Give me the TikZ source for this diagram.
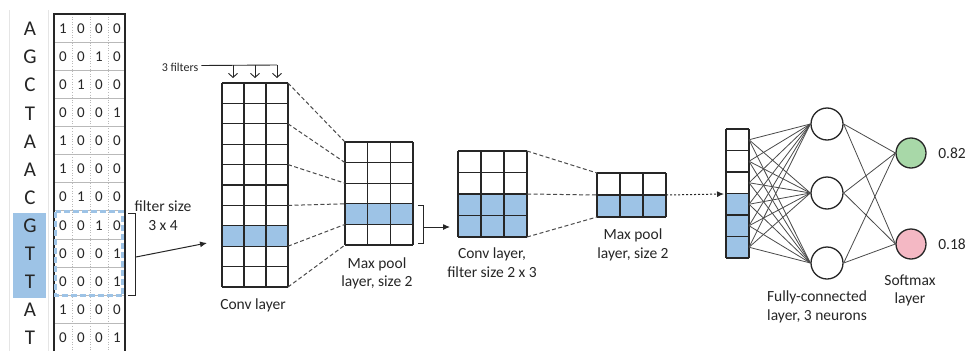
\documentclass[tikz,border=0pt]{standalone}
\usepackage{fontspec}
\setmainfont{Carlito}
\usetikzlibrary{arrows.meta}

\definecolor{cellblue}{HTML}{9DC3E6}
\definecolor{ink}{HTML}{262626}
\definecolor{linegray}{HTML}{4A4A4A}
\definecolor{outgreen}{HTML}{A8D8A8}
\definecolor{outpink}{HTML}{F4B8C4}

\tikzset{
  gridline/.style={line width=1.3pt, draw=ink},
  poolmap/.style={line width=1pt, draw=linegray, dash pattern=on 4pt off 2.5pt},
  wire/.style={line width=0.8pt, draw=linegray},
  neuron/.style={circle, draw=ink, line width=1.3pt, fill=white, minimum size=32pt, inner sep=0pt},
  outneuron/.style={neuron, minimum size=30pt},
  label/.style={font=\fontsize{15.5}{18.5}\selectfont, text=ink, align=center, inner sep=0pt},
  base/.style={font=\fontsize{21}{21}\selectfont, text=ink, inner sep=0pt},
  bit/.style={font=\fontsize{15}{15}\selectfont, text=ink, inner sep=0pt},
  bracket/.style={line width=0.9pt, draw=ink},
  flow/.style={line width=1pt, draw=ink, -{Latex[length=7pt, width=6pt]}},
}

% cell grid: x0, y0, columns, rows, cell width, row height, shaded rows, name
\newcommand{\cellgrid}[8]{%
  \foreach \r in {#7} {\fill[cellblue] (#1,{#2+\r*#6}) rectangle ({#1+#3*#5},{#2+(\r+1)*#6});}
  \foreach \c in {0,...,#3} {\draw[gridline] ({#1+\c*#5},#2) -- ({#1+\c*#5},{#2+#4*#6});}
  \foreach \r in {0,...,#4} {%
    \draw[gridline] (#1,{#2+\r*#6}) -- ({#1+#3*#5},{#2+\r*#6});
    \coordinate (#8-w\r) at (#1,{#2+\r*#6});
    \coordinate (#8-e\r) at ({#1+#3*#5},{#2+\r*#6});}
}

\begin{document}
\begin{tikzpicture}[x=1pt, y=-1pt]
\useasboundingbox (0,0) rectangle (968,351);
\fill[white] (0,0) rectangle (968,351);

% ---- one-hot encoded sequence ----
\draw[gray!20, line width=0.8pt] (9,10) -- (9,351);
\draw[gray!20, line width=0.8pt] (48,10) -- (48,351);
\fill[cellblue] (13,213) rectangle (46,298);
\foreach \k in {1,...,11} {\draw[gray!55, line width=0.6pt] (54,{14+\k*28.1}) -- (125,{14+\k*28.1});}
\foreach \xx in {72,90,108} {\draw[gray!55, line width=0.6pt, dotted] (\xx,14) -- (\xx,351);}
\foreach \l/\a/\b/\c/\d [count=\i from 0] in
  {A/1/0/0/0, G/0/0/1/0, C/0/1/0/0, T/0/0/0/1, A/1/0/0/0, A/1/0/0/0,
   C/0/1/0/0, G/0/0/1/0, T/0/0/0/1, T/0/0/0/1, A/1/0/0/0, T/0/0/0/1} {
  \node[base] (nt\i) at (30,{15+(\i+0.5)*28.1}) {\l};
  \node[bit] (b\i a) at (63,{14.5+(\i+0.5)*28.1}) {\a};
  \node[bit] (b\i b) at (81,{14.5+(\i+0.5)*28.1}) {\b};
  \node[bit] (b\i c) at (99,{14.5+(\i+0.5)*28.1}) {\c};
  \node[bit] (b\i d) at (117,{14.5+(\i+0.5)*28.1}) {\d};
}
\draw[line width=1.5pt, draw=ink] (54,351) -- (54,14) -- (125,14) -- (125,351);
\draw[cellblue, line width=2.2pt, dash pattern=on 6pt off 3pt] (55.5,211.5) rectangle (122.5,295.5);

% filter window bracket and arrow into the first convolution
\draw[bracket] (128,213) -- (135,213) -- (135,295) -- (128,295);
\coordinate (brkA) at (136,257);
\coordinate (convA-in) at (207,243);
\draw[flow] (brkA) -- (convA-in);
\node[label] (filterlbl) at (163,215.5) {filter size\\3 x 4};

% ---- first convolution layer ----
\cellgrid{222}{83}{3}{10}{22}{20.4}{7}{convA}
\node[label] (convAlbl) at (253,305) {Conv layer};

% three filters feeding the columns
\node[font=\fontsize{12}{12}\selectfont, text=ink, inner sep=0pt] (filters) at (180,67) {3 filters};
\coordinate (fbar) at (277,65);
\draw[line width=0.9pt, ink] (filters.east) ++(3,-1.5) coordinate (fstart) -- (fbar);
\foreach \xx [count=\j] in {233,255,277} {
  \coordinate (fin\j) at (\xx,78);
  \draw[line width=0.9pt, ink, -{Straight Barb[length=4pt, width=9pt]}] (\xx,65) -- (fin\j);
}

% ---- first max pooling ----
\cellgrid{345}{142}{3}{5}{22.67}{20.6}{3}{poolA}
\foreach \a/\b in {0/0,2/1,4/2,6/3,8/4,10/5} {\draw[poolmap] (convA-e\a) -- (poolA-w\b);}
\node[label] (poolAlbl) at (377,273.5) {Max pool\\layer, size 2};

\draw[bracket] (418,205) -- (423,205) -- (423,243) -- (418,243);
\coordinate (brkB) at (423,227);
\coordinate (convB-in) at (450,227);
\draw[flow] (brkB) -- (convB-in);

% ---- second convolution layer ----
\cellgrid{458}{151}{3}{4}{23}{21.5}{2,3}{convB}
\node[label] (convBlbl) at (492,262.5) {Conv layer,\\filter size 2 x 3};

% ---- second max pooling ----
\cellgrid{597}{173}{3}{2}{23}{22}{1}{poolB}
\foreach \a/\b in {0/0,2/1,4/2} {\draw[poolmap] (convB-e\a) -- (poolB-w\b);}
\node[label] (poolBlbl) at (633,245) {Max pool\\layer, size 2};

% ---- flattened vector ----
\cellgrid{726}{129}{1}{6}{23}{21.5}{3,4,5}{flat}
\coordinate (flat-in) at (724,194);
\draw[line width=1pt, ink, dash pattern=on 2pt off 2pt, -{Latex[length=7pt, width=6pt]}] (poolB-e1) -- (flat-in);
\foreach \r in {0,...,5} {\coordinate (flat-m\r) at (749,{129+(\r+0.5)*21.5});}

% ---- fully connected and softmax layers ----
\node[neuron] (h1) at (827,124) {};
\node[neuron] (h2) at (827,193) {};
\node[neuron] (h3) at (827,263) {};
\node[outneuron, fill=outgreen] (o1) at (911,153) {};
\node[outneuron, fill=outpink] (o2) at (911,244) {};
\foreach \r in {0,...,5} {\foreach \h in {h1,h2,h3} {\draw[wire] (flat-m\r) -- (\h.west);}}
\foreach \h in {h1,h2,h3} {\foreach \o in {o1,o2} {\draw[wire] (\h.east) -- (\o.west);}}
\node[label] (p1) at (952,153) {0.82};
\node[label] (p2) at (952,244) {0.18};
\node[label] (fclbl) at (817,307) {Fully-connected\\layer, 3 neurons};
\node[label] (smlbl) at (910,290.5) {Softmax\\layer};
\end{tikzpicture}
\end{document}
